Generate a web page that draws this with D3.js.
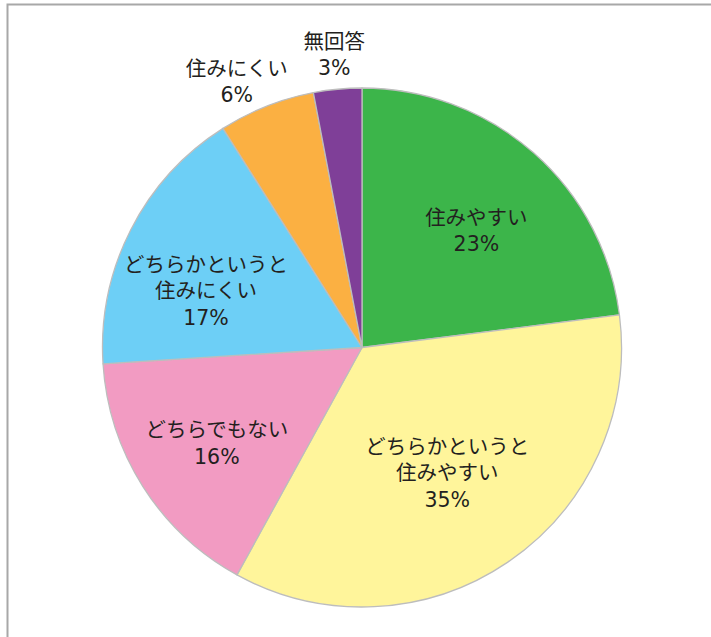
<!DOCTYPE html>
<html>
<head>
<meta charset="utf-8">
<script src="https://cdn.jsdelivr.net/npm/d3@7"></script>
<style>
  html, body { margin: 0; padding: 0; background: #fff; }
  svg { display: block; }
</style>
</head>
<body>
<svg id="chart"></svg>
<script>
// Slices, clockwise from 12 o'clock
const categories = [
  ['住みやすい'],
  ['どちらかというと', '住みやすい'],
  ['どちらでもない'],
  ['どちらかというと', '住みにくい'],
  ['住みにくい'],
  ['無回答'],
];
const values = [23, 35, 16, 17, 6, 3];
const colors = ['#3cb54a', '#fff59b', '#f29bc2', '#6dcff6', '#fbb042', '#7f3f98'];

// label placement: [radius factor, angle nudge in degrees]
const labelSpots = [
  [0.63, 3], [0.585, 0], [0.67, -1], [0.64, -7], [1.133, -3.6], [1.133, 0],
];

const width = 711;
const height = 637;
const cx = 362;
const cy = 347.5;
const radius = 259.5;

const svg = d3.select('#chart')
    .attr('width', width)
    .attr('height', height);

// frame around the figure (runs off the right and bottom edge)
svg.append('rect')
    .attr('x', 7.5)
    .attr('y', 4.5)
    .attr('width', width)
    .attr('height', height)
    .attr('fill', 'none')
    .attr('stroke', '#a8a8a8')
    .attr('stroke-width', 2);

const pie = d3.pie().sort(null).value((d) => d);
const arcs = pie(values);
const arc = d3.arc().innerRadius(0).outerRadius(radius);

const g = svg.append('g').attr('transform', `translate(${cx},${cy})`);

g.selectAll('path')
    .data(arcs)
    .join('path')
    .attr('d', arc)
    .attr('fill', (d, i) => colors[i])
    .attr('stroke', '#bdbdbd')
    .attr('stroke-width', 1.3)
    .attr('stroke-linejoin', 'round');

// latin digits from DejaVu (wide, like the original), kana fall back to Noto CJK
const lineH = 26.5;
g.selectAll('text.lbl')
    .data(arcs)
    .join('text')
    .attr('class', 'lbl')
    .attr('text-anchor', 'middle')
    .attr('font-family', '"DejaVu Sans", "Noto Sans CJK JP", sans-serif')
    .attr('font-size', 20.5)
    .attr('fill', '#231f20')
    .each(function(d, i) {
      const [rf, nudge] = labelSpots[i];
      const a = (d.startAngle + d.endAngle) / 2 + nudge * Math.PI / 180;
      const r = radius * rf;
      const x = r * Math.sin(a);
      const y = -r * Math.cos(a);
      const lines = categories[i].concat([values[i] + '%']);
      const top = y - (lines.length - 1) * lineH / 2;
      const t = d3.select(this);
      lines.forEach((s, k) => {
        t.append('tspan')
            .attr('x', x)
            .attr('y', top + k * lineH)
            .attr('dy', '0.36em')
            .text(s);
      });
    });
</script>
</body>
</html>
